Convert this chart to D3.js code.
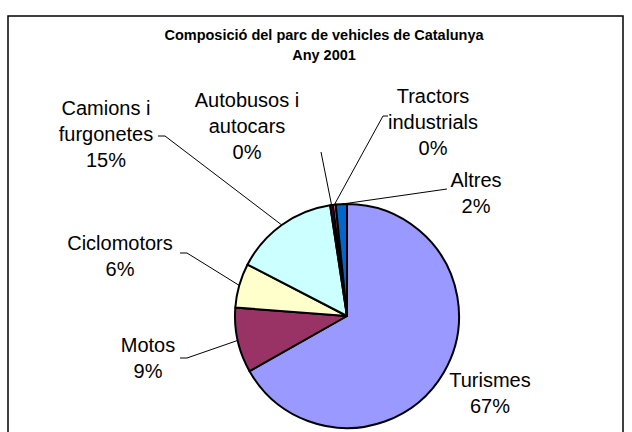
<!DOCTYPE html>
<html>
<head>
<meta charset="utf-8">
<script src="https://cdn.jsdelivr.net/npm/d3@7"></script>
<style>
  body { margin: 0; background: #fff; }
  text { font-family: "Liberation Sans", Arial, sans-serif; }
</style>
</head>
<body>
<div id="chart"></div>
<script>
// data
const categories = [
  "Turismes",
  "Motos",
  "Ciclomotors",
  "Camions i furgonetes",
  "Autobusos i autocars",
  "Tractors industrials",
  "Altres",
];
const shares = [66.8, 9.4, 6.4, 15.0, 0.4, 0.4, 1.6];
const titleLines = ["Composició del parc de vehicles de Catalunya", "Any 2001"];

// label text lines per slice (how Excel wrapped them)
const labelLines = [
  ["Turismes"],
  ["Motos"],
  ["Ciclomotors"],
  ["Camions i", "furgonetes"],
  ["Autobusos i", "autocars"],
  ["Tractors", "industrials"],
  ["Altres"],
];

const colors = ["#9999FF", "#993366", "#FFFFCC", "#CCFFFF", "#660066", "#FF8080", "#0066CC"];

// layout
const cx = 347, cy = 316, radius = 112;
const lineStep = 26;
// x center and last-line baseline for every label, plus leader start points
const labelPos = [
  { x: 490, y: 413, lead: null },
  { x: 148, y: 378, lead: [[180, 358], [187, 358]] },
  { x: 120, y: 276, lead: [[180, 253], [187, 253]] },
  { x: 106, y: 167, lead: [[158, 136], [165, 136]] },
  { x: 247, y: 159, lead: [[321, 152]] },
  { x: 433, y: 155, lead: [[388, 116], [383, 116]] },
  { x: 476, y: 213, lead: [[447, 189]] },
];

const svg = d3.select("#chart").append("svg").attr("width", 632).attr("height", 432);

// chart frame
svg.append("rect")
  .attr("x", 8).attr("y", 16)
  .attr("width", 615).attr("height", 440)
  .attr("fill", "white")
  .attr("stroke", "black")
  .attr("stroke-width", 1.5);

function drawTitle(svg) {
  svg.selectAll(".title")
    .data(titleLines)
    .enter()
    .append("text")
    .attr("class", "title")
    .attr("x", 324)
    .attr("y", (d, i) => 40 + i * 20)
    .attr("text-anchor", "middle")
    .attr("font-size", "14.5px")
    .attr("font-weight", "bold")
    .text((d) => d);
}

const pie = d3.pie().sort(null).value((d) => d);
const arcs = pie(shares);
const arc = d3.arc().innerRadius(0).outerRadius(radius);

function drawPie(svg) {
  const g = svg.append("g").attr("transform", `translate(${cx},${cy})`);
  g.selectAll("path")
    .data(arcs)
    .enter()
    .append("path")
    .attr("d", arc)
    .attr("fill", (d, i) => colors[i])
    .attr("stroke", "black")
    .attr("stroke-width", 2)
    .attr("stroke-linejoin", "round");
}

function drawLabels(svg) {
  const total = d3.sum(shares);
  arcs.forEach((a, i) => {
    const pos = labelPos[i];
    const lines = labelLines[i].concat([Math.round((shares[i] / total) * 100) + "%"]);
    const first = pos.y - (lines.length - 1) * lineStep;
    lines.forEach((t, k) => {
      svg.append("text")
        .attr("x", pos.x)
        .attr("y", first + k * lineStep)
        .attr("text-anchor", "middle")
        .attr("font-size", "20px")
        .attr("fill", "black")
        .text(t);
    });
    if (pos.lead) {
      const mid = (a.startAngle + a.endAngle) / 2;
      const edge = [cx + radius * Math.sin(mid), cy - radius * Math.cos(mid)];
      svg.append("path")
        .datum(pos.lead.concat([edge]))
        .attr("d", d3.line())
        .attr("fill", "none")
        .attr("stroke", "black")
        .attr("stroke-width", 1);
    }
  });
}

drawPie(svg);
drawLabels(svg);
drawTitle(svg);
</script>
</body>
</html>
